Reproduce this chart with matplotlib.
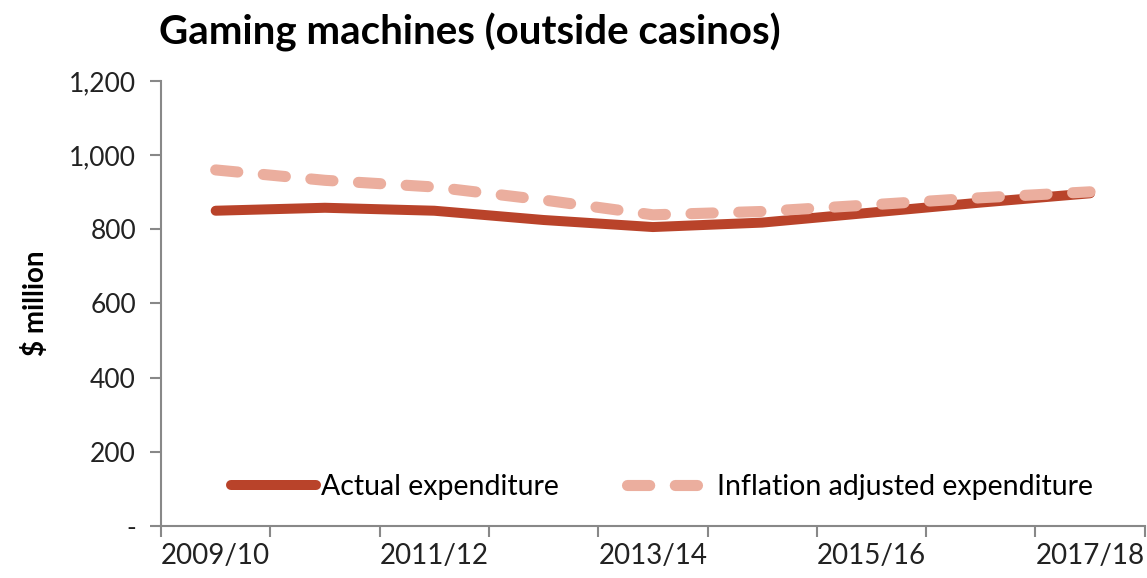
import matplotlib
matplotlib.use('Agg')
from matplotlib import pyplot as plt
from matplotlib.ticker import FixedLocator, FuncFormatter

years = ['2009/10', '2010/11', '2011/12', '2012/13', '2013/14',
         '2014/15', '2015/16', '2016/17', '2017/18']
actual = [850, 858, 850, 825, 806, 818, 845, 872, 897]
inflation_adj = [960, 932, 914, 879, 839, 848, 866, 885, 901]

plt.rcParams['font.family'] = ['Lato', 'DejaVu Sans']

fig = plt.figure(figsize=(11.47, 5.78), dpi=100)
ax = fig.add_axes([0.1404, 0.09, 0.8576, 0.77])

x = list(range(len(years)))
ax.plot(x, actual, color='#B9432A', lw=7.2, solid_capstyle='round',
        label='Actual expenditure', zorder=2)
ax.plot(x, inflation_adj, color='#EBAE9E', lw=8, dashes=(2.0, 2.3),
        dash_capstyle='round', label='Inflation adjusted expenditure', zorder=3)

ax.set_xlim(-0.5, len(years) - 0.5)
ax.set_ylim(0, 1200)

# category boundaries get the ticks, labels sit in the middle
ax.xaxis.set_major_locator(FixedLocator([i - 0.5 for i in range(len(years) + 1)]))
ax.xaxis.set_major_formatter(FuncFormatter(lambda v, p: ''))
ax.xaxis.set_minor_locator(FixedLocator(x[::2]))
ax.set_xticklabels([years[i] for i in x[::2]], minor=True)
ax.tick_params(axis='x', which='major', length=8, width=1.5, color='#888888')
ax.tick_params(axis='x', which='minor', length=0, pad=12, labelsize=20, labelcolor='#222222')

ax.set_yticks(range(0, 1201, 200))
ax.yaxis.set_major_formatter(FuncFormatter(lambda v, p: '-' if v == 0 else '{:,.0f}'.format(v)))
ax.tick_params(axis='y', length=8, width=1.5, color='#888888', labelsize=19,
               labelcolor='#222222', pad=10)

for s in ['top', 'right']:
    ax.spines[s].set_visible(False)
for s in ['left', 'bottom']:
    ax.spines[s].set_color('#888888')
    ax.spines[s].set_linewidth(1.5)

ax.set_ylabel('$ million', fontsize=20, fontweight='bold', labelpad=14)
fig.text(0.139, 0.91, 'Gaming machines (outside casinos)', fontsize=29,
         fontweight='bold', va='bottom', ha='left')

ax.legend(loc='center', bbox_to_anchor=(0.509, 0.088), ncol=2, frameon=False,
          fontsize=20.5, handlelength=3.0, handletextpad=0.15, columnspacing=2.4)

fig.savefig('out.png', dpi=100)
